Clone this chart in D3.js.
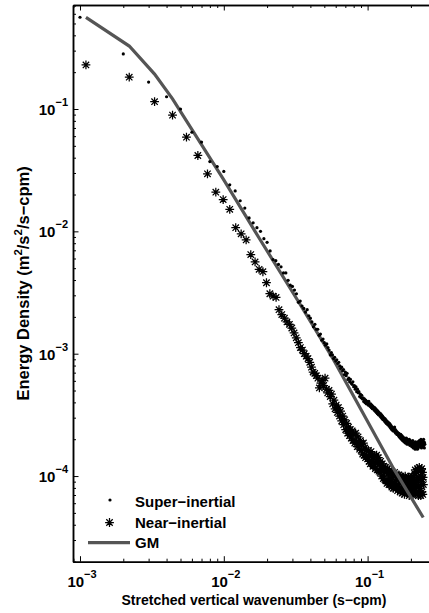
<!DOCTYPE html>
<html><head><meta charset="utf-8">
<script src="https://cdn.jsdelivr.net/npm/d3@7"></script>
<style>
html,body{margin:0;padding:0;background:#fff;}
svg{display:block;}
text{font-family:"Liberation Sans",Arial,Helvetica,sans-serif;font-weight:bold;fill:#000;}
</style></head>
<body>
<svg id="c" width="429" height="613"></svg>
<script>
// wavenumber grid spacing (s-cpm)
const superDk = 0.001;
const nearDk = 0.0011;
// log10 of energy density, super-inertial (dots), one per wavenumber bin
const superLogE = [
-0.25,-0.55,-0.78,-0.90,-1.00,-1.19,-1.27,-1.43,-1.47,-1.51,
-1.62,-1.67,-1.75,-1.81,-1.89,-1.93,-1.97,-2.00,-2.06,-2.09,
-2.16,-2.23,-2.24,-2.27,-2.29,-2.34,-2.34,-2.40,-2.44,-2.45,
-2.48,-2.51,-2.58,-2.57,-2.61,-2.63,-2.66,-2.64,-2.69,-2.71,
-2.74,-2.78,-2.76,-2.80,-2.80,-2.85,-2.84,-2.89,-2.88,-2.91,
-2.93,-2.92,-2.95,-2.97,-3.01,-2.99,-3.01,-3.04,-3.03,-3.06,
-3.05,-3.08,-3.07,-3.10,-3.12,-3.11,-3.14,-3.13,-3.17,-3.15,
-3.18,-3.16,-3.21,-3.20,-3.23,-3.21,-3.24,-3.25,-3.23,-3.27,
-3.26,-3.29,-3.27,-3.31,-3.29,-3.32,-3.31,-3.35,-3.33,-3.36,
-3.34,-3.37,-3.36,-3.39,-3.37,-3.40,-3.38,-3.41,-3.39,-3.40,
-3.42,-3.39,-3.41,-3.43,-3.41,-3.44,-3.42,-3.45,-3.43,-3.44,
-3.46,-3.44,-3.47,-3.45,-3.48,-3.46,-3.49,-3.47,-3.50,-3.48,
-3.50,-3.51,-3.49,-3.52,-3.50,-3.53,-3.51,-3.54,-3.52,-3.53,
-3.55,-3.53,-3.56,-3.54,-3.57,-3.55,-3.56,-3.58,-3.56,-3.57,
-3.59,-3.57,-3.60,-3.58,-3.61,-3.59,-3.62,-3.60,-3.61,-3.63,
-3.61,-3.63,-3.62,-3.60,-3.64,-3.62,-3.65,-3.63,-3.64,-3.66,
-3.64,-3.66,-3.65,-3.67,-3.65,-3.68,-3.66,-3.67,-3.69,-3.66,
-3.68,-3.70,-3.67,-3.69,-3.71,-3.68,-3.70,-3.69,-3.72,-3.70,
-3.69,-3.71,-3.73,-3.70,-3.72,-3.69,-3.71,-3.74,-3.70,-3.72,
-3.73,-3.71,-3.74,-3.72,-3.70,-3.73,-3.75,-3.71,-3.74,-3.72,
-3.74,-3.72,-3.76,-3.73,-3.75,-3.71,-3.74,-3.77,-3.73,-3.75,
-3.73,-3.76,-3.74,-3.78,-3.72,-3.75,-3.77,-3.74,-3.76,-3.73,
-3.75,-3.78,-3.72,-3.74,-3.77,-3.73,-3.76,-3.74,-3.71,-3.75,
-3.73,-3.76,-3.72,-3.75,-3.70,-3.74,-3.77,-3.72,-3.75,-3.73,
-3.71,-3.76,-3.73,-3.74,-3.70,-3.75,-3.72,-3.77,-3.73,-3.74
];
// log10 of energy density, near-inertial (asterisks)
const nearLogE = [
-0.64,-0.74,-0.94,-1.05,-1.23,-1.38,-1.53,-1.68,-1.74,-1.82,
-1.97,-2.02,-2.07,-2.19,-2.25,-2.31,-2.33,-2.42,-2.51,-2.53,
-2.54,-2.64,-2.68,-2.71,-2.74,-2.76,-2.79,-2.83,-2.87,-2.91,
-2.95,-2.97,-3.00,-3.02,-3.04,-3.07,-3.11,-3.15,-3.16,-3.18,
-3.20,-3.28,-3.24,-3.22,-3.26,-3.20,-3.29,-3.32,-3.30,-3.35,
-3.33,-3.41,-3.38,-3.45,-3.42,-3.48,-3.44,-3.51,-3.47,-3.55,
-3.51,-3.58,-3.54,-3.62,-3.57,-3.65,-3.60,-3.67,-3.62,-3.69,
-3.63,-3.71,-3.66,-3.73,-3.65,-3.72,-3.76,-3.68,-3.74,-3.78,
-3.71,-3.79,-3.74,-3.82,-3.73,-3.83,-3.77,-3.85,-3.79,-3.84,
-3.86,-3.79,-3.88,-3.82,-3.90,-3.80,-3.88,-3.83,-3.92,-3.85,
-3.91,-3.84,-3.94,-3.87,-3.83,-3.95,-3.89,-3.85,-3.96,-3.90,
-3.97,-3.88,-3.94,-4.00,-3.90,-3.96,-4.02,-3.92,-3.97,-4.03,
-3.93,-4.04,-3.97,-4.06,-3.94,-4.05,-3.98,-4.07,-3.95,-4.02,
-4.07,-3.97,-4.03,-4.09,-3.98,-4.05,-4.10,-4.00,-4.06,-3.97,
-4.08,-4.00,-4.10,-4.03,-3.99,-4.09,-4.12,-4.01,-4.07,-3.99,
-4.10,-4.02,-4.13,-4.04,-4.00,-4.11,-4.05,-4.14,-4.01,-4.08,
-4.12,-4.02,-4.09,-4.15,-4.04,-4.00,-4.11,-4.05,-4.13,-4.02,
-4.09,-4.14,-4.03,-4.11,-4.01,-4.07,-4.16,-4.05,-4.12,-4.02,
-4.10,-4.03,-4.14,-4.06,-4.00,-4.12,-4.05,-4.16,-4.08,-4.01,
-4.12,-4.05,-3.98,-4.10,-3.95,-4.14,-4.04,-4.08,-3.97,-4.13,
-4.05,-3.94,-4.14,-4.01,-4.16,-3.96,-4.08,-3.93,-4.15,-4.02,
-4.10,-3.95,-4.16,-4.00,-4.07,-3.94,-4.13,-4.03,-3.97,-4.15,
-4.01,-4.07
];
// GM reference spectrum
const gmK = [0.0011,0.0022,0.0033,0.0044,0.0066,0.0099,0.0176,0.033,0.0577,0.1,0.151,0.2437];
const gmE = [0.561,0.327,0.193,0.121,0.0571,0.0268,0.00883,0.00267,0.000902,0.000279,0.000116,0.0000458];
// axes
const xMajor = [1e-3,1e-2,1e-1];
const yMajor = [1e-4,1e-3,1e-2,1e-1];
const xExp = ["\u22123","\u22122","\u22121"];
const yExp = ["\u22124","\u22123","\u22122","\u22121"];
const legendLabels = ["Super\u2212inertial","Near\u2212inertial","GM"];

const superData = superLogE.map((v,i)=>({k:(i+1)*superDk, e:Math.pow(10,v)}));
const nearData = nearLogE.map((v,i)=>({k:(i+1)*nearDk, e:Math.pow(10,v)}));
const gmData = gmK.map((k,i)=>({k:k, e:gmE[i]}));

const L=73, R=435, T=5, B=561.7;
const svg = d3.select("#c");
const x = d3.scaleLog().domain([8.94e-4, 0.2942]).range([L,R]);
const y = d3.scaleLog().domain([1.995e-5, 0.708]).range([B,T]);

function minors(dom, majors){
  const out=[];
  majors.concat([majors[0]/10]).forEach(m=>{for(let j=2;j<=9;j++){const v=m*j; if(v>=dom[0]&&v<=dom[1]) out.push(v);}});
  return out;
}
const xMin = minors(x.domain(), xMajor);
const yMin = minors(y.domain(), yMajor);

const g = svg.append("g");
function styleAxis(sel){
  sel.selectAll("path").attr("stroke","#000").attr("stroke-width",1.5);
  sel.selectAll("line").attr("stroke","#000").attr("stroke-width",1);
  sel.selectAll("text").remove();
}
// bottom
g.append("g").attr("transform",`translate(0,${B})`).call(d3.axisBottom(x).tickValues(xMajor).tickSizeInner(-5.5).tickSizeOuter(0).tickFormat("")).call(styleAxis);
g.append("g").attr("transform",`translate(0,${B})`).call(d3.axisBottom(x).tickValues(xMin).tickSizeInner(-3).tickSizeOuter(0).tickFormat("")).call(styleAxis);
// top
g.append("g").attr("transform",`translate(0,${T})`).call(d3.axisTop(x).tickValues(xMajor).tickSizeInner(-5.5).tickSizeOuter(0).tickFormat("")).call(styleAxis);
g.append("g").attr("transform",`translate(0,${T})`).call(d3.axisTop(x).tickValues(xMin).tickSizeInner(-3).tickSizeOuter(0).tickFormat("")).call(styleAxis);
// left
g.append("g").attr("transform",`translate(${L},0)`).call(d3.axisLeft(y).tickValues(yMajor).tickSizeInner(-5.5).tickSizeOuter(0).tickFormat("")).call(styleAxis);
g.append("g").attr("transform",`translate(${L},0)`).call(d3.axisLeft(y).tickValues(yMin).tickSizeInner(-3).tickSizeOuter(0).tickFormat("")).call(styleAxis);

// tick labels
xMajor.forEach((v,i)=>{
  const t = svg.append("text").attr("x",x(v)+2).attr("y",587).attr("text-anchor","middle").style("font-size","15px");
  t.append("tspan").text("10");
  t.append("tspan").attr("dy",-9).style("font-size","11px").text(xExp[i]);
});
yMajor.forEach((v,i)=>{
  const t = svg.append("text").attr("x",68).attr("y",y(v)+6).attr("text-anchor","end").style("font-size","15px");
  t.append("tspan").text("10");
  t.append("tspan").attr("dy",-9).style("font-size","11px").text(yExp[i]);
});

// axis titles
svg.append("text").attr("x",254).attr("y",605).attr("text-anchor","middle").style("font-size","14px")
  .text("Stretched vertical wavenumber (s\u2212cpm)");
const yt = svg.append("text").attr("transform",`translate(29,${(T+B)/2}) rotate(-90)`).attr("text-anchor","middle").style("font-size","16.5px");
yt.append("tspan").text("Energy Density (m");
yt.append("tspan").attr("dy",-7).style("font-size","11.5px").text("2");
yt.append("tspan").attr("dy",7).text("/s");
yt.append("tspan").attr("dy",-7).style("font-size","11.5px").text("2");
yt.append("tspan").attr("dy",7).text("/s\u2212cpm)");

// clip
svg.append("clipPath").attr("id","clip").append("rect").attr("x",L).attr("y",T).attr("width",R-L).attr("height",B-T);
const plot = svg.append("g").attr("clip-path","url(#clip)");

function star(sel, cx, cy){
  const a=4.4, d=3.2;
  const p = `M${cx-a},${cy}L${cx+a},${cy}M${cx},${cy-a}L${cx},${cy+a}M${cx-d},${cy-d}L${cx+d},${cy+d}M${cx-d},${cy+d}L${cx+d},${cy-d}`;
  sel.append("path").attr("d",p).attr("stroke","#000").attr("stroke-width",1.25).attr("fill","none");
}
// near-inertial stars
const sg = plot.append("g");
nearData.forEach(d=>star(sg, x(d.k), y(d.e)));
// GM line
plot.append("path").datum(gmData)
  .attr("d", d3.line().x(d=>x(d.k)).y(d=>y(d.e)))
  .attr("fill","none").attr("stroke","#555").attr("stroke-width",3.2);
// super-inertial dots
plot.append("g").selectAll("circle").data(superData).join("circle")
  .attr("cx",d=>x(d.k)).attr("cy",d=>y(d.e)).attr("r",1.6).attr("fill","#000");

// legend
const lg = svg.append("g");
lg.append("circle").attr("cx",110).attr("cy",500).attr("r",1.6).attr("fill","#000");
star(lg,109.5,522.5);
lg.append("line").attr("x1",88).attr("x2",130).attr("y1",542.7).attr("y2",542.7).attr("stroke","#555").attr("stroke-width",3.2);
[506.5,528.3,548.3].forEach((yy,i)=>{
  lg.append("text").attr("x",135).attr("y",yy).style("font-size","15px").text(legendLabels[i]);
});
</script>
</body></html>
